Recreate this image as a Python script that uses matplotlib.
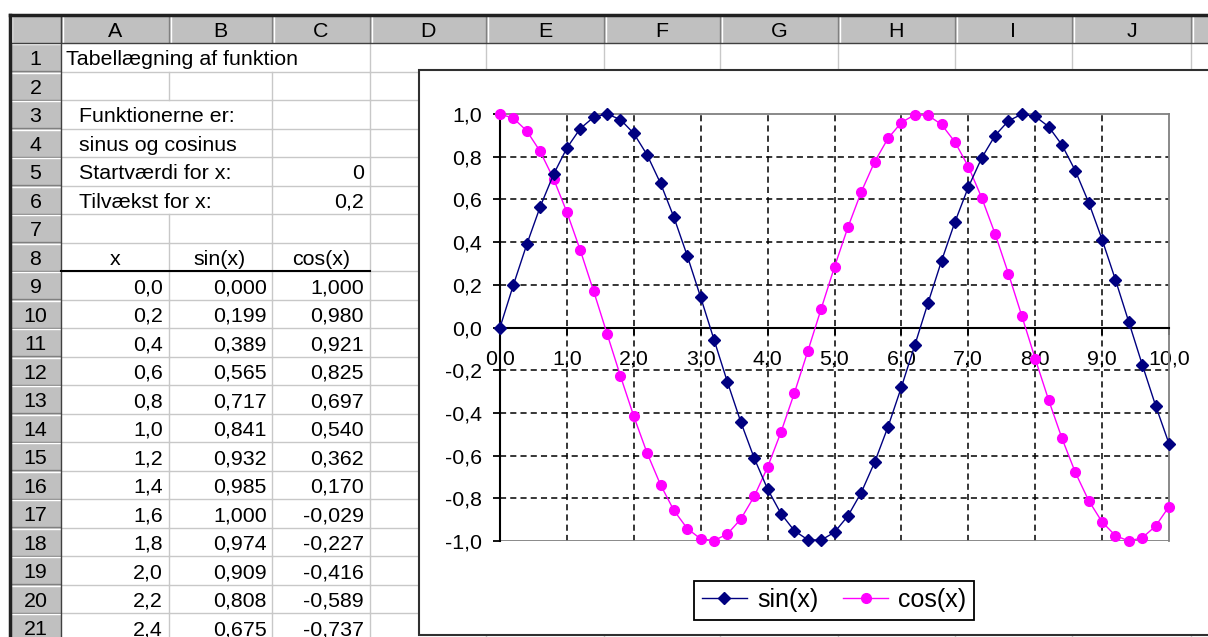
import matplotlib.pyplot as plt
from matplotlib.patches import Rectangle
from matplotlib.ticker import FuncFormatter

plt.rcParams['font.family'] = ['Liberation Sans', 'DejaVu Sans']

# tabel: x fra 0 til 10 med tilvækst 0,2
x_vals = [0.0, 0.2, 0.4, 0.6, 0.8, 1.0, 1.2, 1.4, 1.6, 1.8,
          2.0, 2.2, 2.4, 2.6, 2.8, 3.0, 3.2, 3.4, 3.6, 3.8,
          4.0, 4.2, 4.4, 4.6, 4.8, 5.0, 5.2, 5.4, 5.6, 5.8,
          6.0, 6.2, 6.4, 6.6, 6.8, 7.0, 7.2, 7.4, 7.6, 7.8,
          8.0, 8.2, 8.4, 8.6, 8.8, 9.0, 9.2, 9.4, 9.6, 9.8, 10.0]
sin_vals = [0.000, 0.199, 0.389, 0.565, 0.717, 0.841, 0.932, 0.985, 1.000, 0.974,
            0.909, 0.808, 0.675, 0.516, 0.335, 0.141, -0.058, -0.256, -0.443, -0.612,
            -0.757, -0.872, -0.952, -0.994, -0.996, -0.959, -0.883, -0.773, -0.631, -0.465,
            -0.279, -0.083, 0.117, 0.312, 0.494, 0.657, 0.794, 0.899, 0.968, 0.999,
            0.989, 0.941, 0.855, 0.734, 0.585, 0.412, 0.223, 0.025, -0.174, -0.366, -0.544]
cos_vals = [1.000, 0.980, 0.921, 0.825, 0.697, 0.540, 0.362, 0.170, -0.029, -0.227,
            -0.416, -0.589, -0.737, -0.857, -0.942, -0.990, -0.998, -0.967, -0.897, -0.791,
            -0.654, -0.490, -0.307, -0.112, 0.087, 0.284, 0.469, 0.635, 0.776, 0.886,
            0.960, 0.997, 0.993, 0.951, 0.869, 0.754, 0.608, 0.439, 0.252, 0.054,
            -0.146, -0.339, -0.519, -0.679, -0.811, -0.911, -0.975, -1.000, -0.985, -0.930, -0.839]

col_letters = ['A', 'B', 'C', 'D', 'E', 'F', 'G', 'H', 'I', 'J']
row_numbers = list(range(1, 22))
start_x = '0'
step_x = '0,2'
y_ticks = [-1.0, -0.8, -0.6, -0.4, -0.2, 0.0, 0.2, 0.4, 0.6, 0.8, 1.0]
x_ticks = [0, 1, 2, 3, 4, 5, 6, 7, 8, 9, 10]


def komma(v, dec):
    return f'{v:.{dec}f}'.replace('.', ',')


W, H = 1208, 637
fig = plt.figure(figsize=(W / 100, H / 100), dpi=100)
sheet = fig.add_axes([0, 0, 1, 1])
sheet.set_xlim(0, W)
sheet.set_ylim(H, 0)
sheet.axis('off')

# regnearkets gitter
col_edges = [61, 169, 272, 370, 486, 604, 720, 838, 955, 1072, 1191]
hdr_top, hdr_bot, left = 15, 43, 10
row_h = 28.5
row_edges = [hdr_bot + row_h * i for i in range(23)]
grid = '#c8c8c8'
fs = 15.4

# celler hvor teksten løber over i nabocellen
no_line = {(169, 1), (272, 1), (169, 3), (169, 4), (169, 5), (169, 6)}

for r in range(1, 22):
    y0, y1 = row_edges[r - 1], row_edges[r]
    sheet.plot([col_edges[0], W], [y1, y1], color=grid, lw=1, zorder=1)
    for xe in col_edges[1:]:
        if (xe, r) in no_line:
            continue
        sheet.plot([xe, xe], [y0, y1], color=grid, lw=1, zorder=1)

# kolonneoverskrifter
sheet.add_patch(Rectangle((left, hdr_top), W - left, hdr_bot - hdr_top,
                          fc='#c0c0c0', ec='none', zorder=2))
edges = [left] + col_edges + [W + 5]
for i in range(len(edges) - 1):
    a, b = edges[i], edges[i + 1]
    sheet.plot([a + 1.5, a + 1.5], [hdr_top + 1, hdr_bot - 1], color='white', lw=1, zorder=3)
    sheet.plot([b - 0.5, b - 0.5], [hdr_top + 1, hdr_bot - 1], color='#808080', lw=1, zorder=3)
    if 1 <= i <= len(col_letters):
        sheet.text((a + b) / 2, (hdr_top + hdr_bot) / 2 + 2.5, col_letters[i - 1],
                   ha='center', va='center', fontsize=fs, zorder=4)

# rækkeoverskrifter
sheet.add_patch(Rectangle((left, hdr_bot), col_edges[0] - left, H - hdr_bot,
                          fc='#c0c0c0', ec='none', zorder=2))
for r in row_numbers:
    y0, y1 = row_edges[r - 1], row_edges[r]
    sheet.plot([left + 1, col_edges[0] - 1], [y0 + 1, y0 + 1], color='white', lw=1, zorder=3)
    sheet.plot([left + 1, col_edges[0] - 1], [y1 - 0.5, y1 - 0.5], color='#808080', lw=1, zorder=3)
    sheet.text((left + col_edges[0]) / 2, (y0 + y1) / 2 + 2.5, str(r),
               ha='center', va='center', fontsize=fs, zorder=4)

sheet.plot([left, W], [hdr_bot, hdr_bot], color='#404040', lw=1, zorder=3)
sheet.plot([col_edges[0], col_edges[0]], [hdr_top, H], color='#404040', lw=1, zorder=3)
sheet.plot([left, W], [hdr_top, hdr_top], color='#202020', lw=2.5, zorder=4)
sheet.plot([left, left], [hdr_top, H], color='#202020', lw=2.5, zorder=4)


def rc(r):
    return (row_edges[r - 1] + row_edges[r]) / 2 + 2.5


sheet.text(66, rc(1), 'Tabellægning af funktion', va='center', fontsize=fs)
sheet.text(79, rc(3), 'Funktionerne er:', va='center', fontsize=fs)
sheet.text(79, rc(4), 'sinus og cosinus', va='center', fontsize=fs)
sheet.text(79, rc(5), 'Startværdi for x:', va='center', fontsize=fs)
sheet.text(79, rc(6), 'Tilvækst for x:', va='center', fontsize=fs)
sheet.text(364, rc(5), start_x, ha='right', va='center', fontsize=fs)
sheet.text(364, rc(6), step_x, ha='right', va='center', fontsize=fs)

sheet.text(115, rc(8), 'x', ha='center', va='center', fontsize=fs)
sheet.text(220, rc(8), 'sin(x)', ha='center', va='center', fontsize=fs)
sheet.text(321, rc(8), 'cos(x)', ha='center', va='center', fontsize=fs)
sheet.plot([col_edges[0], col_edges[3]], [row_edges[8], row_edges[8]],
           color='black', lw=1.5, zorder=3)

for i, r in enumerate(range(9, 22)):
    sheet.text(163, rc(r), komma(x_vals[i], 1), ha='right', va='center', fontsize=fs)
    sheet.text(267, rc(r), komma(sin_vals[i], 3), ha='right', va='center', fontsize=fs)
    sheet.text(364, rc(r), komma(cos_vals[i], 3), ha='right', va='center', fontsize=fs)

# diagramramme
sheet.add_patch(Rectangle((419, 70), 820, 565, fc='white', ec='#303030', lw=1.5, zorder=10))

# selve diagrammet
ax = fig.add_axes([500 / W, 1 - 541 / H, 669 / W, 427 / H])
ax.set_facecolor('white')
ax.set_xlim(0, 10)
ax.set_ylim(-1, 1)

dash = (0, (4, 2.7))
for xv in x_ticks[1:-1]:
    ax.axvline(xv, color='black', lw=1.1, ls=dash, zorder=1)
for yv in y_ticks[1:-1]:
    if yv != 0:
        ax.axhline(yv, color='black', lw=1.1, ls=dash, zorder=1)
ax.axhline(-1, color='#808080', lw=1.3, zorder=1)

ax.plot(x_vals, sin_vals, color='#000080', lw=1, marker='D', ms=6.5,
        clip_on=False, label='sin(x)', zorder=4)
ax.plot(x_vals, cos_vals, color='#ff00ff', lw=1, marker='o', ms=7,
        clip_on=False, label='cos(x)', zorder=3)

ax.spines['left'].set_color('black')
ax.spines['left'].set_linewidth(1.5)
ax.spines['bottom'].set_position(('data', 0))
ax.spines['bottom'].set_color('black')
ax.spines['bottom'].set_linewidth(1.5)
for s in ('top', 'right'):
    ax.spines[s].set_color('#808080')
    ax.spines[s].set_linewidth(1.3)

ax.set_xticks(x_ticks)
ax.set_yticks(y_ticks)
ax.xaxis.set_major_formatter(FuncFormatter(lambda v, p: komma(v, 1)))
ax.yaxis.set_major_formatter(FuncFormatter(lambda v, p: komma(v, 1)))
ax.tick_params(axis='both', direction='out', length=5, width=1.3, labelsize=fs)
ax.tick_params(axis='y', pad=8)
ax.tick_params(axis='x', pad=11)

leg = ax.legend(loc='center', bbox_to_anchor=(834 / W, 1 - 600 / H),
                bbox_transform=fig.transFigure, ncol=2, fontsize=18,
                frameon=True, fancybox=False, edgecolor='black', framealpha=1,
                handlelength=1.8, columnspacing=1.0, handletextpad=0.4,
                borderpad=0.3)
leg.get_frame().set_linewidth(1.3)

fig.savefig('out.png', dpi=100)
